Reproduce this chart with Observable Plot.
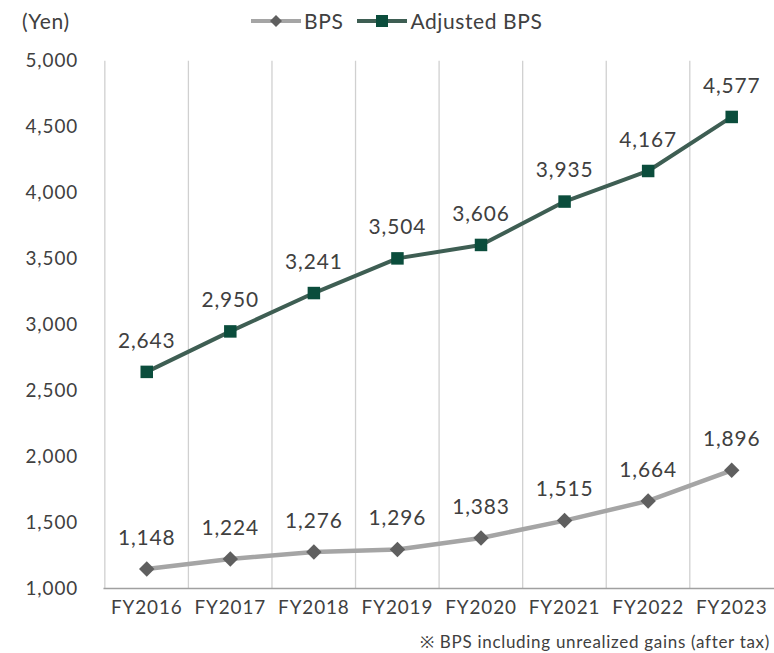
<!DOCTYPE html>
<html>
<head>
<meta charset="utf-8">
<script src="https://cdn.jsdelivr.net/npm/d3@7"></script>
<script src="https://cdn.jsdelivr.net/npm/@observablehq/plot@0.6"></script>
<style>
  html, body { margin: 0; padding: 0; background: #fff; overflow: hidden; }
  #wrap { position: relative; width: 774px; height: 653px; overflow: hidden; font-family: Lato, "Noto Sans", sans-serif; color: #404040; letter-spacing: 0.6px; }
  #yen { position: absolute; left: 22px; top: 8px; font-size: 21px; }
  #legend { position: absolute; left: 251px; top: 8px; display: flex; align-items: center; font-size: 21px; }
  #legend .item { display: flex; align-items: center; margin-right: 14px; }
  #legend svg { margin-right: 3px; }
  #note { position: absolute; right: 4px; top: 630px; font-size: 17px; letter-spacing: 0.7px; }
  #chart { position: absolute; left: 0; top: 0; }
  #chart svg text { letter-spacing: 0.9px; }
</style>
</head>
<body>
<div id="wrap">
  <div id="chart"></div>
  <div id="yen">(Yen)</div>
  <div id="legend">
    <div class="item">
      <svg width="50" height="14"><line x1="0" y1="7" x2="50" y2="7" stroke="#a5a5a5" stroke-width="4"/><path d="M25,1 L31,7 L25,13 L19,7 Z" fill="#5f5f5f"/></svg>
      <span>BPS</span>
    </div>
    <div class="item">
      <svg width="50" height="14"><line x1="0" y1="7" x2="50" y2="7" stroke="#3e5e53" stroke-width="4"/><rect x="19" y="1" width="12" height="12" fill="#0b4d3c"/></svg>
      <span>Adjusted BPS</span>
    </div>
  </div>
  <div id="note">※ BPS including unrealized gains (after tax)</div>
</div>
<script>
const years = ["FY2016","FY2017","FY2018","FY2019","FY2020","FY2021","FY2022","FY2023"];
const bps = [1148, 1224, 1276, 1296, 1383, 1515, 1664, 1896];
const adjustedBps = [2643, 2950, 3241, 3504, 3606, 3935, 4167, 4577];
const yTicks = [1000, 1500, 2000, 2500, 3000, 3500, 4000, 4500, 5000];

const bpsData = years.map((y, i) => ({year: y, value: bps[i]}));
const adjData = years.map((y, i) => ({year: y, value: adjustedBps[i]}));

const W = 778;
const bandW = (W - 104) / years.length;

const chart = Plot.plot({
  width: W,
  height: 653,
  marginTop: 61,
  marginBottom: 62,
  marginLeft: 104,
  marginRight: 0,
  style: {fontFamily: "Lato, 'Noto Sans', sans-serif", color: "#404040", background: "transparent"},
  x: {type: "band", domain: years, padding: 0},
  y: {domain: [1000, 5000]},
  marks: [
    Plot.ruleX(years, {x: d => d, dx: -bandW / 2, stroke: "#d0d0d0", strokeWidth: 1.3}),
    Plot.ruleY([1000], {stroke: "#a0a0a0", strokeWidth: 1.5}),
    Plot.axisY({ticks: yTicks, tickFormat: d3.format(","), tickSize: 0, tickPadding: 26, fontSize: 19, fill: "#404040", label: null}),
    Plot.axisX({tickSize: 0, tickPadding: 12, fontSize: 19, fill: "#404040", label: null}),
    Plot.line(bpsData, {x: "year", y: "value", stroke: "#a5a5a5", strokeWidth: 4.5}),
    Plot.dot(bpsData, {x: "year", y: "value", symbol: "diamond2", r: 7, fill: "#5f5f5f", stroke: "none"}),
    Plot.line(adjData, {x: "year", y: "value", stroke: "#3e5e53", strokeWidth: 4}),
    Plot.dot(adjData, {x: "year", y: "value", symbol: "square2", r: 8, fill: "#0b4d3c", stroke: "none"}),
    Plot.text(bpsData, {x: "year", y: "value", text: d => d3.format(",")(d.value), dy: -31, fontSize: 21, fill: "#404040"}),
    Plot.text(adjData, {x: "year", y: "value", text: d => d3.format(",")(d.value), dy: -31, fontSize: 21, fill: "#404040"})
  ]
});
document.getElementById("chart").appendChild(chart);
</script>
</body>
</html>
